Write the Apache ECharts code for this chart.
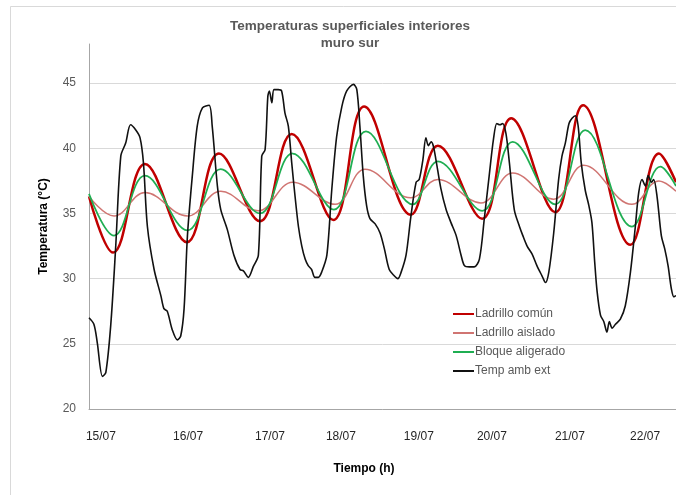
<!DOCTYPE html>
<html><head><meta charset="utf-8">
<script src="https://cdn.jsdelivr.net/npm/echarts@6/dist/echarts.min.js"></script>
<style>html,body{margin:0;padding:0;background:#fff}#c{width:676px;height:495px}</style>
</head><body><div id="c"></div>
<script>
// x positions are hours from the start of the record
const xLabelHours = [3.9, 32.4, 59.2, 82.4, 107.9, 131.8, 157.3, 181.9];
const xLabels = ['15/07', '16/07', '17/07', '18/07', '19/07', '20/07', '21/07', '22/07'];
const yTicks = [20, 25, 30, 35, 40, 45];

const ladrilloComun = [[0,36.3],[7.9,32.0],[18.3,38.8],[32.0,32.8],[42.5,39.6],[55.9,34.4],[66.3,41.1],[79.9,34.5],[90.0,43.2],[105.3,34.9],[114.1,40.2],[128.6,34.6],[138.1,42.3],[152.5,35.1],[161.6,43.3],[177.1,32.6],[186.4,39.6],[192,37.4]];
const ladrilloAislado = [[0,36.3],[8.2,34.8],[18.3,36.6],[32.2,34.8],[43.1,36.7],[55.3,35.2],[66.6,37.4],[80.5,35.7],[90.3,38.4],[105.3,36.2],[114.1,37.6],[128.2,35.8],[138.6,38.1],[152.0,36.1],[161.8,38.7],[177.6,35.7],[186.4,37.5],[192,36.7]];
const bloqueAligerado = [[0,36.5],[8.2,33.3],[18.3,37.9],[32.2,33.7],[43.1,38.4],[55.9,35.0],[66.6,39.6],[80.1,35.3],[90.6,41.3],[105.9,35.7],[114.1,39.0],[128.6,35.2],[138.6,40.5],[152.5,35.7],[162.3,41.4],[177.6,34.0],[186.9,38.6],[192,37.1]];
const tempAmbExt = [[0,27.0],[1.6,26.5],[2.7,25.1],[4.4,22.5],[5.5,22.8],[7.1,26.4],[8.7,32.3],[10.4,39.4],[12.0,40.4],[13.6,41.8],[15.3,41.4],[16.7,40.8],[17.8,38.9],[19.1,34.0],[21.3,30.7],[23.5,28.7],[24.5,27.7],[25.6,27.5],[27.2,26.1],[28.9,25.3],[30.0,25.6],[31.1,27.7],[32.2,33.3],[33.8,37.9],[35.4,41.7],[37.1,43.1],[39.3,43.3],[40.3,41.7],[42.0,37.1],[43.1,35.3],[45.2,33.8],[47.4,31.8],[49.4,30.7],[50.5,30.6],[52.1,30.1],[53.7,30.9],[55.4,31.8],[56.5,39.4],[57.6,39.9],[58.5,44.0],[59.0,44.4],[59.8,43.5],[60.5,44.5],[61.9,44.5],[63.0,44.4],[64.1,42.7],[65.2,41.7],[66.3,38.9],[67.4,36.3],[68.5,34.0],[69.6,32.5],[70.7,31.5],[71.7,31.0],[72.8,30.7],[73.9,30.1],[75.0,30.1],[76.1,30.5],[77.8,31.8],[79.4,36.8],[81.0,40.9],[82.7,43.2],[84.3,44.4],[86.5,44.9],[87.6,44.5],[88.6,41.7],[89.7,37.9],[90.8,35.6],[91.9,34.6],[93.6,34.2],[95.2,33.5],[96.6,32.3],[98.2,30.7],[99.9,30.2],[101.0,30.0],[102.1,30.5],[103.7,31.8],[105.3,34.8],[107.0,37.4],[108.0,37.6],[109.2,39.1],[110.2,40.8],[111.0,40.2],[111.9,40.5],[112.6,40.2],[113.5,39.1],[115.1,36.9],[116.8,35.3],[118.4,34.3],[120.1,33.3],[121.7,31.8],[122.8,31.0],[124.4,30.9],[126.0,30.9],[127.7,31.5],[129.3,34.6],[130.9,37.9],[132.3,40.7],[133.4,41.9],[134.4,41.8],[135.3,41.9],[136.4,41.1],[137.5,38.9],[139.1,35.3],[140.8,34.0],[141.9,33.3],[143.3,32.5],[144.9,31.9],[146.5,31.0],[148.2,30.2],[149.3,29.7],[150.4,30.5],[152.0,33.5],[153.6,37.6],[154.7,39.4],[155.8,40.4],[157.0,41.9],[158.0,42.3],[159.1,42.5],[160.0,41.7],[161.0,38.9],[162.3,36.8],[163.5,35.6],[164.5,34.3],[165.4,31.3],[166.2,29.0],[167.3,27.2],[168.4,26.7],[169.4,25.9],[170.2,26.7],[171.1,26.2],[172.2,26.5],[173.8,26.9],[175.4,27.9],[177.1,30.5],[178.7,34.0],[179.8,36.6],[180.9,37.6],[182.0,37.1],[182.9,37.9],[184.0,37.4],[184.7,37.6],[185.8,36.3],[187.2,33.3],[188.3,32.3],[189.4,31.0],[190.5,29.2],[191.3,28.6],[192,28.7]];

const FONT = "'Liberation Sans', Arial, sans-serif";
const chart = echarts.init(document.getElementById('c'));
chart.setOption({
  backgroundColor: '#ffffff',
  animation: false,
  textStyle: { fontFamily: FONT },
  graphic: [{
    type: 'rect', silent: true, z: -10,
    shape: { x: 10.5, y: 6.5, width: 700, height: 600 },
    style: { fill: 'none', stroke: '#d9d9d9', lineWidth: 1 }
  }],
  title: {
    text: 'Temperaturas superficiales interiores\nmuro sur',
    left: 350, top: 18, padding: 0, textAlign: 'center',
    textStyle: { fontFamily: FONT, fontSize: 13.5, fontWeight: 'bold', color: '#595959', lineHeight: 17 }
  },
  legend: {
    orient: 'vertical', left: 452, top: 308, padding: 0,
    itemWidth: 21, itemHeight: 2.5, itemGap: 7,
    textStyle: { fontFamily: FONT, fontSize: 12, color: '#595959', padding: [0, 0, 0, -4] },
    data: ['Ladrillo común', 'Ladrillo aislado', 'Bloque aligerado', 'Temp amb ext']
  },
  grid: { left: 89, right: 0, top: 44, bottom: 86, containLabel: false },
  xAxis: {
    type: 'value', min: 0, max: 192,
    name: 'Tiempo (h)', nameLocation: 'middle', nameGap: 54,
    nameTextStyle: { fontFamily: FONT, fontSize: 12, fontWeight: 'bold', color: '#000', padding: [0, 37, 0, 0] },
    axisLine: { show: true, lineStyle: { color: '#a6a6a6', width: 1 } },
    axisTick: { show: false },
    splitLine: { show: false },
    axisLabel: {
      customValues: xLabelHours, margin: 22, fontSize: 12, color: '#262626', fontFamily: FONT,
      formatter: function (v) {
        for (let i = 0; i < xLabelHours.length; i++) if (Math.abs(xLabelHours[i] - v) < 1e-6) return xLabels[i];
        return '';
      }
    }
  },
  yAxis: {
    type: 'value', min: 20, max: 48, interval: 5,
    name: 'Temperatura (°C)', nameLocation: 'middle', nameGap: 39,
    nameTextStyle: { fontFamily: FONT, fontSize: 12, fontWeight: 'bold', color: '#000' },
    axisLine: { show: true, lineStyle: { color: '#a6a6a6', width: 1 } },
    axisTick: { show: false },
    splitLine: { show: true, showMaxLine: false, lineStyle: { color: '#d9d9d9', width: 1 } },
    axisLabel: { customValues: yTicks, margin: 13, fontSize: 12, color: '#595959', fontFamily: FONT }
  },
  series: [
    { name: 'Ladrillo común', type: 'line', data: ladrilloComun, smooth: 0.4, symbol: 'none',
      lineStyle: { color: '#c00000', width: 2.5 }, itemStyle: { color: '#c00000' } },
    { name: 'Ladrillo aislado', type: 'line', data: ladrilloAislado, smooth: 0.4, symbol: 'none',
      lineStyle: { color: '#d07572', width: 1.5 }, itemStyle: { color: '#d07572' } },
    { name: 'Bloque aligerado', type: 'line', data: bloqueAligerado, smooth: 0.4, symbol: 'none',
      lineStyle: { color: '#1fae52', width: 1.75 }, itemStyle: { color: '#1fae52' } },
    { name: 'Temp amb ext', type: 'line', data: tempAmbExt, smooth: 0.3, symbol: 'none',
      lineStyle: { color: '#111111', width: 1.6 }, itemStyle: { color: '#111111' } }
  ]
});
</script>
</body></html>
